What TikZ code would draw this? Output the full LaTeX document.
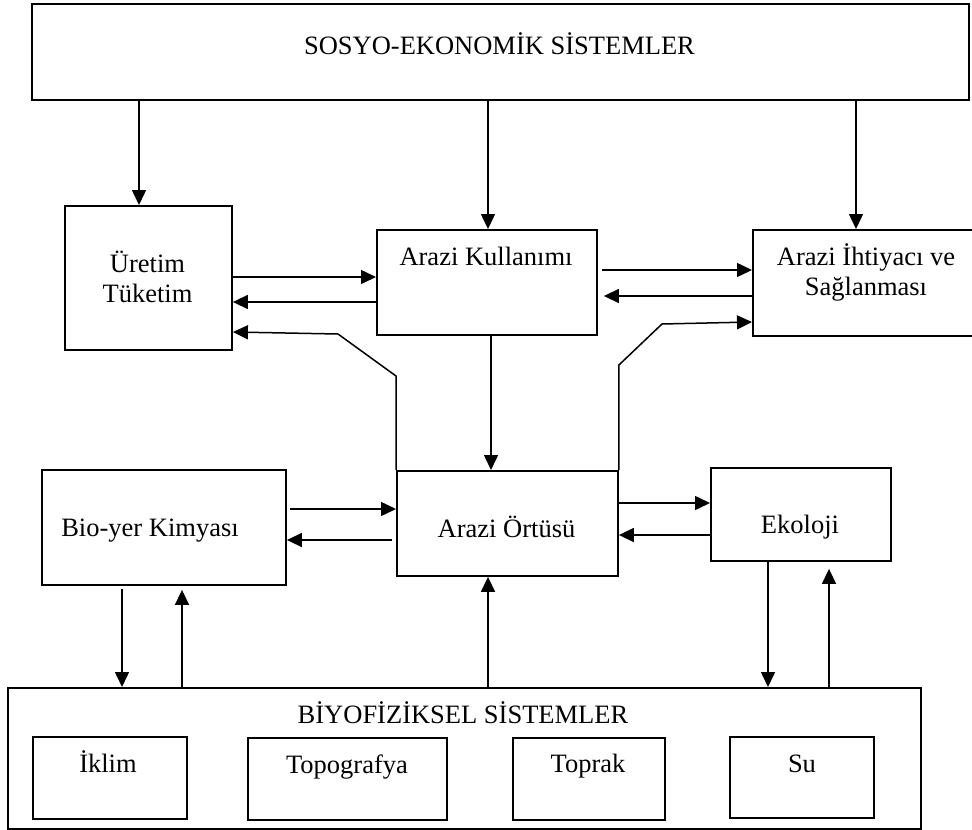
\documentclass[tikz,border=0pt]{standalone}
\usepackage{fontspec}
\setmainfont{Liberation Serif}
\usetikzlibrary{arrows.meta}
\begin{document}
\begin{tikzpicture}[x=1pt,y=-1pt,
  box/.style={draw, line width=1.9pt, rectangle, inner sep=0pt, anchor=north west},
  lbl/.style={font=\fontsize{26.5}{30}\selectfont, inner sep=0pt, anchor=base},
  arr/.style={line width=1.5pt, -{Triangle[length=15pt,width=14pt]}}]
\path[use as bounding box] (0,0) rectangle (972,830);
\clip (0,0) rectangle (972,830);

% boxes
\node[box, minimum width=937pt, minimum height=96pt]  (top)  at (31,3)    {};
\node[box, minimum width=167pt, minimum height=144pt] (ure)  at (64,205)  {};
\node[box, minimum width=220pt, minimum height=105pt] (ak)   at (376,229) {};
\node[box, minimum width=228pt, minimum height=106pt] (ai)   at (752,229) {};
\node[box, minimum width=244pt, minimum height=115pt] (bio)  at (41,469)  {};
\node[box, minimum width=221pt, minimum height=105pt] (ort)  at (396,470) {};
\node[box, minimum width=180pt, minimum height=93pt]  (eko)  at (710,467) {};
\node[box, minimum width=913pt, minimum height=141pt] (bot)  at (7,687)   {};
\node[box, minimum width=154pt, minimum height=82pt]  (ikl)  at (32,736)  {};
\node[box, minimum width=199pt, minimum height=82pt]  (topo) at (247,737) {};
\node[box, minimum width=152pt, minimum height=82pt]  (topr) at (512,737) {};
\node[box, minimum width=144pt, minimum height=81pt]  (su)   at (729,736) {};

% labels
\node[lbl] (topT)  at (499.5,54) {SOSYO-EKONOMİK SİSTEMLER};
\node[lbl] (ureA)  at (147.5,272) {Üretim};
\node[lbl] (ureB)  at (147.5,302) {Tüketim};
\node[lbl] (akT)   at (486,265) {Arazi Kullanımı};
\node[lbl] (aiA)   at (866,265) {Arazi İhtiyacı ve};
\node[lbl] (aiB)   at (866,295) {Sağlanması};
\node[lbl] (bioT)  at (150,536) {Bio-yer Kimyası};
\node[lbl] (ortT)  at (506.5,537) {Arazi Örtüsü};
\node[lbl] (ekoT)  at (800,533) {Ekoloji};
\node[lbl] (botT)  at (463,723) {BİYOFİZİKSEL SİSTEMLER};
\node[lbl] (iklT)  at (108,772) {İklim};
\node[lbl] (topoT) at (347,773) {Topografya};
\node[lbl] (toprT) at (588,772) {Toprak};
\node[lbl] (suT)   at (802,772) {Su};

% socio-economic links
\draw[arr] (top.south -| 139,0) -- (ure.north -| 139,0);
\draw[arr] (top.south -| 488,0) -- (ak.north -| 488,0);
\draw[arr] (top.south -| 856,0) -- (ai.north -| 856,0);
\draw[arr] (ure.east |- 0,277) -- (ak.west |- 0,277);
\draw[arr] (ak.west |- 0,302) -- (ure.east |- 0,302);
\draw[arr, shorten <=4pt] (ak.east |- 0,270) -- (ai.west |- 0,270);
\draw[arr, shorten >=6pt] (ai.west |- 0,296) -- (ak.east |- 0,296);

% land cover feedback
\draw[arr] (ort.north west) -- (396,376) -- (338,334) -- (ure.east |- 0,332);
\draw[arr] (ort.north east) -- (ort.north east |- 0,365) -- (662,324) -- (ai.west |- 0,322);
\draw[arr] (ak.south -| 491,0) -- (ort.north -| 491,0);

% middle row
\draw[arr, shorten <=3pt] (bio.east |- 0,509) -- (ort.west |- 0,509);
\draw[arr, shorten <=4pt] (ort.west |- 0,540) -- (bio.east |- 0,540);
\draw[arr] (ort.east |- 0,503) -- (eko.west |- 0,503);
\draw[arr] (eko.west |- 0,535) -- (ort.east |- 0,535);

% biophysical links
\draw[arr] (eko.south -| 768,0) -- (bot.north -| 768,0);
\draw[arr, shorten >=7pt] (bot.north -| 829,0) -- (eko.south -| 829,0);
\draw[arr, shorten <=3pt] (bio.south -| 122,0) -- (bot.north -| 122,0);
\draw[arr, shorten >=4pt] (bot.north -| 182,0) -- (bio.south -| 182,0);
\draw[arr] (bot.north -| 488,0) -- (ort.south -| 488,0);
\end{tikzpicture}
\end{document}
